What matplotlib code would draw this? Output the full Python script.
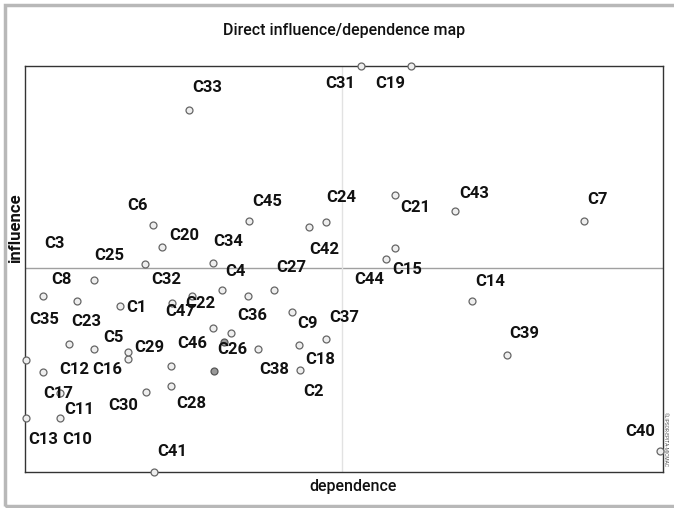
import matplotlib
matplotlib.use("Agg")
import matplotlib.pyplot as plt
from matplotlib.patches import Rectangle

# variables of the direct influence/dependence map (map units)
names = ["C1", "C2", "C3", "C4", "C5", "C6", "C7", "C8", "C9", "C10",
         "C11", "C12", "C13", "C14", "C15", "C16", "C17", "C18", "C19", "C20",
         "C21", "C22", "C23", "C24", "C25", "C26", "C27", "C28", "C29", "C30",
         "C31", "C32", "C33", "C34", "C35", "C36", "C37", "C38", "C39", "C40",
         "C41", "C42", "C43", "C44", "C45", "C46", "C47"]
dependence = [95, 275, 18, 197, 69, 128, 559, 52, 267, 35,
              35, 44, 1, 447, 370, 103, 18, 274, 386, 137,
              370, 167, 188, 301, 69, 206, 249, 146, 103, 121,
              336, 120, 164, 188, 1, 223, 301, 233, 482, 635,
              129, 284, 430, 361, 224, 146, 147]
influence = [166, 102, 176, 182, 123, 247, 251, 171, 160, 54,
             79, 128, 54, 171, 224, 113, 100, 127, 406, 225,
             277, 176, 144, 250, 192, 139, 182, 86, 120, 80,
             406, 208, 362, 209, 112, 176, 133, 123, 117, 21,
             0, 245, 261, 213, 251, 106, 169]

# overlapping markers without their own label
extra_dependence = [199, 189]
extra_influence = [130, 101]

mean_dependence = 317
mean_influence = 204

# label offsets in pixels (style only)
label_offset = {
    "C1": (16, -1), "C2": (13, -22), "C3": (11, 52), "C4": (13, 18), "C5": (19, 12),
    "C6": (-15, 20), "C7": (13, 21), "C8": (-16, 21), "C9": (16, -12), "C10": (17, -21),
    "C11": (19, -17), "C12": (5, -26), "C13": (17, -21), "C14": (18, 20), "C15": (12, -21),
    "C16": (-21, -11), "C17": (15, -21), "C18": (21, -14), "C19": (-21, -17), "C20": (22, 12),
    "C21": (20, -13), "C22": (8, -7), "C23": (-127, 7), "C24": (15, 24), "C25": (15, 24),
    "C26": (1, -16), "C27": (17, 22), "C28": (20, -17), "C29": (21, 4), "C30": (-23, -13),
    "C31": (-21, -17), "C32": (21, -15), "C33": (18, 22), "C34": (15, 22), "C35": (18, 40),
    "C36": (4, -19), "C37": (18, 21), "C38": (16, -21), "C39": (17, 22), "C40": (-20, 20),
    "C41": (18, 20), "C42": (15, -22), "C43": (19, 18), "C44": (-17, -21), "C45": (18, 20),
    "C46": (21, 23), "C47": (8, -9),
}

font = ["Roboto", "Liberation Sans", "DejaVu Sans"]

fig = plt.figure(figsize=(6.74, 5.08), dpi=100)
ax = fig.add_axes([25 / 674, 36 / 508, 638 / 674, 406 / 508])

ax.axhline(mean_influence, color="#a0a0a0", lw=1.0, zorder=1)
ax.axvline(mean_dependence, color="#e2e2e2", lw=1.0, zorder=1)

ax.plot(dependence, influence, "o", ms=5, mfc="#eeeeee", mec="#666666",
        mew=0.9, clip_on=False, zorder=3)
ax.plot(extra_dependence, extra_influence, "o", ms=5, mfc="#999999", mec="#555555",
        mew=0.9, clip_on=False, zorder=3)

for n, x, y in zip(names, dependence, influence):
    dx, dy = label_offset[n]
    ax.annotate(n, (x, y), xytext=(dx, dy), textcoords="offset pixels",
                ha="center", va="center", fontsize=12, family=font,
                fontweight="semibold", color="#111111", annotation_clip=False,
                zorder=4)

ax.set_xlim(0, 638)
ax.set_ylim(0, 406)
ax.set_xticks([])
ax.set_yticks([])
for s in ax.spines.values():
    s.set_color("#333333")
    s.set_linewidth(1.0)

fig.text(344 / 674, 1 - 30 / 508, "Direct influence/dependence map", ha="center",
         va="center", fontsize=11.5, family=font, fontweight="medium", color="#111111")
fig.text(353 / 674, 1 - 486 / 508, "dependence", ha="center", va="center",
         fontsize=11.5, family=font, fontweight="medium", color="#111111")
fig.text(16 / 674, 1 - 228 / 508, "influence", ha="center", va="center",
         rotation=90, fontsize=12, fontweight="bold", family=font, color="#111111")
fig.text(665 / 674, 1 - 440 / 508, "©LIPSOR-EPITA-MICMAC", ha="center", va="center",
         rotation=270, fontsize=3.5, family=font, color="#555555")

fig.patches.append(Rectangle((5 / 674, 2 / 508), 700 / 674, 501 / 508,
                             transform=fig.transFigure, fill=False,
                             edgecolor="#b8b8b8", lw=2.5))

fig.savefig("out.png", dpi=100)
